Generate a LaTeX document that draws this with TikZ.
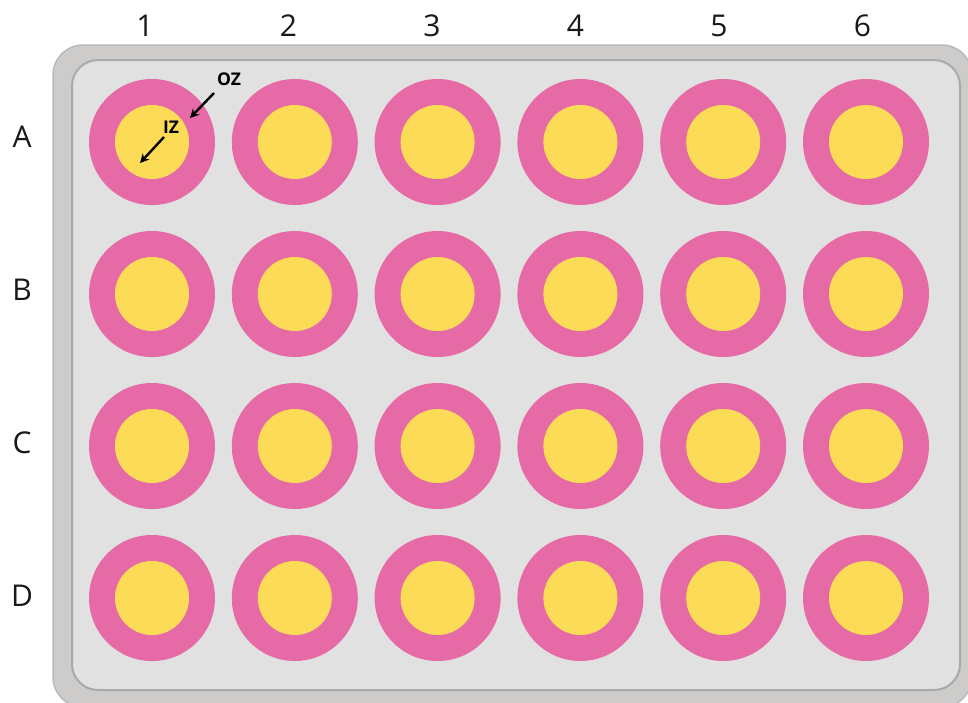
\documentclass[tikz,border=0pt]{standalone}
\usepackage{fontspec}
\setmainfont{Open Sans}
\usetikzlibrary{arrows.meta}
\definecolor{pinkring}{HTML}{E66AA6}
\definecolor{yellowcore}{HTML}{FCDB57}
\definecolor{plateinner}{HTML}{E1E1E1}
\definecolor{plateouter}{HTML}{CDCCCB}
\definecolor{plateedge}{HTML}{A9A9A9}
\tikzset{
  outerwell/.style={circle, fill=pinkring, minimum size=126pt, inner sep=0pt},
  innerwell/.style={circle, fill=yellowcore, minimum size=74pt, inner sep=0pt},
  axislabel/.style={font=\fontsize{30}{33}\selectfont, text=black!90, inner sep=0pt},
  zonelabel/.style={font=\fontsize{17.5}{19}\selectfont\bfseries, inner sep=0pt},
  zonearrow/.style={line width=2.4pt, -{Stealth[length=9pt,width=9pt]}}
}
\begin{document}
\begin{tikzpicture}[x=1pt,y=-1pt]
\useasboundingbox (0,0) rectangle (968,702);
\clip (0,0) rectangle (968,702);
\fill[white] (0,0) rectangle (968,702);
% plate
\draw[fill=plateouter, draw=plateedge!80, line width=1.5pt, rounded corners=30pt] (53,45) rectangle (972,707);
\draw[fill=plateinner, draw=plateedge, line width=2pt, rounded corners=26pt] (72,60) rectangle (960,690);
% labels
\foreach \c [count=\i from 0] in {1,...,6} {
  \node[axislabel] (col\c) at (145+143.5*\i,26) {\c};
}
\foreach \r [count=\j from 0] in {A,B,C,D} {
  \node[axislabel] (row\r) at (22,137+153*\j) {\r};
}
% wells
\foreach \r [count=\j from 0] in {A,B,C,D} {
  \foreach \c [count=\i from 0] in {1,...,6} {
    \node[outerwell] (oz\r\c) at (152+142.8*\i,142+152*\j) {};
    \node[innerwell] (iz\r\c) at (oz\r\c) {};
  }
}
% zone labels
\node[zonelabel] (ozlabel) at (229,79) {OZ};
\node[zonelabel] (izlabel) at (171,127) {IZ};
\coordinate (ozstart) at (214,93);
\coordinate (ozend) at (190,118);
\coordinate (izstart) at (164,137);
\coordinate (izend) at (140,163);
\draw[zonearrow] (ozstart) -- (ozend);
\draw[zonearrow] (izstart) -- (izend);
\end{tikzpicture}
\end{document}
